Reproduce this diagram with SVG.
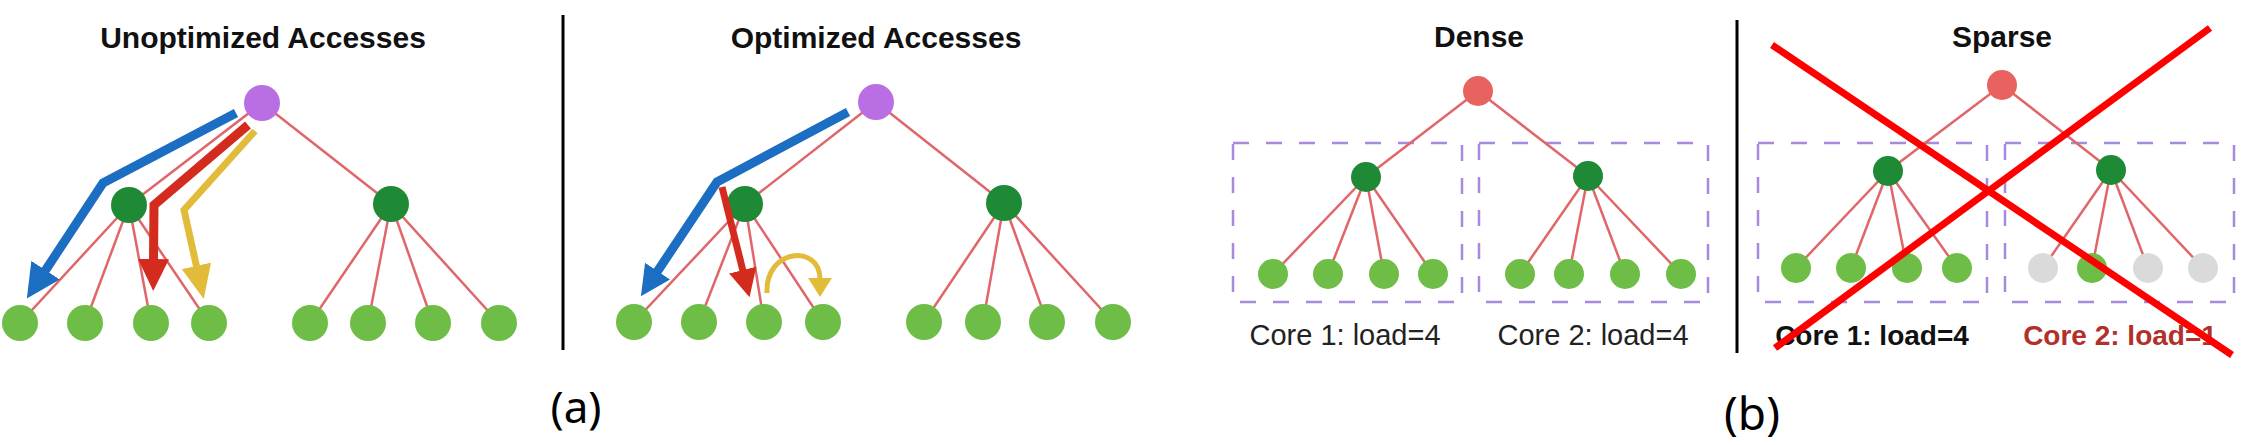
<svg xmlns="http://www.w3.org/2000/svg" width="2267" height="445" viewBox="0 0 2267 445">
<style>
  .title{font-family:"Liberation Sans",Arial,sans-serif;font-weight:bold;font-size:30px;fill:#111;text-anchor:middle}
  .lbl{font-family:"Liberation Sans",Arial,sans-serif;font-size:29px;fill:#222;text-anchor:middle}
  .lblb{font-family:"Liberation Sans",Arial,sans-serif;font-weight:bold;font-size:28px;fill:#111;text-anchor:middle}
  .cap{font-family:"Noto Sans","Open Sans",sans-serif;font-size:44px;fill:#000;text-anchor:middle}
  .edge{stroke:#e0666a;stroke-width:2.5;fill:none}
  .sep{stroke:#000;stroke-width:3}
  .core{fill:none;stroke:#a68ade;stroke-width:2.5;stroke-dasharray:16 17}
  .purple{fill:#b96ee3}
  .mid{fill:#1e8a35}
  .leaf{fill:#6dbd47}
  .rootr{fill:#e8625f}
  .grey{fill:#dadada}
  .arrow{fill:none;stroke-linejoin:miter;stroke-linecap:butt}
  .blue{stroke:#1b6ec2}
  .red{stroke:#d32b1d}
  .yel{stroke:#e2bb3b}
  .cross{stroke:#ff0000;stroke-width:7}
</style>
<defs>
  <marker id="hBlueA" markerUnits="userSpaceOnUse" markerWidth="34" markerHeight="34" viewBox="0 0 34 34" refX="1" refY="17" orient="auto"><path d="M0,0 L34,17 L0,34 z" fill="#1b6ec2"/></marker>
  <marker id="hRedA" markerUnits="userSpaceOnUse" markerWidth="32" markerHeight="31" viewBox="0 0 32 31" refX="1" refY="15.5" orient="auto"><path d="M0,0 L32,15.5 L0,31 z" fill="#d32b1d"/></marker>
  <marker id="hYelA" markerUnits="userSpaceOnUse" markerWidth="34" markerHeight="30" viewBox="0 0 34 30" refX="1" refY="15" orient="auto"><path d="M0,0 L34,15 L0,30 z" fill="#e2bb3b"/></marker>
  <marker id="hBlueB" markerUnits="userSpaceOnUse" markerWidth="30" markerHeight="30" viewBox="0 0 30 30" refX="1" refY="15" orient="auto"><path d="M0,0 L30,15 L0,30 z" fill="#1b6ec2"/></marker>
  <marker id="hRedB" markerUnits="userSpaceOnUse" markerWidth="28" markerHeight="28" viewBox="0 0 28 28" refX="1" refY="14" orient="auto"><path d="M0,0 L28,14 L0,28 z" fill="#d32b1d"/></marker>
  <marker id="hYelB" markerUnits="userSpaceOnUse" markerWidth="19" markerHeight="24" viewBox="0 0 19 24" refX="1" refY="12" orient="auto"><path d="M0,0 L19,12 L0,24 z" fill="#e2bb3b"/></marker>
</defs>
<rect width="2267" height="445" fill="#fff"/>

<g id="texts">
  <text class="title" x="263" y="48">Unoptimized Accesses</text>
  <text class="title" x="876" y="48">Optimized Accesses</text>
  <text class="title" x="1479" y="47">Dense</text>
  <text class="title" x="2002" y="47">Sparse</text>
  <text class="cap" x="576" y="423">(a)</text>
  <text class="cap" x="1752" y="430" style="font-size:46px">(b)</text>
</g>

<g id="separators">
  <line class="sep" x1="563" y1="15" x2="563" y2="350"/>
  <line class="sep" x1="1737" y1="20" x2="1737" y2="353"/>
</g>

<g id="core-boxes">
  <g id="dense-core1"><rect class="core" x="1233" y="143" width="229" height="159"/><text class="lbl" x="1345" y="345">Core 1: load=4</text></g>
  <g id="dense-core2"><rect class="core" x="1479" y="143" width="229" height="159"/><text class="lbl" x="1593" y="345">Core 2: load=4</text></g>
  <g id="sparse-core1"><rect class="core" x="1758" y="143" width="229" height="159"/><text class="lblb" x="1872" y="345">Core 1: load=4</text></g>
  <g id="sparse-core2"><rect class="core" x="2005" y="143" width="229" height="159"/><text class="lblb" x="2120" y="345" style="fill:#b3302a">Core 2: load=1</text></g>
</g>

<g id="connectors">
  <!-- unoptimized tree -->
  <line class="edge" x1="262" y1="103" x2="129" y2="205"/>
  <line class="edge" x1="262" y1="103" x2="391" y2="204"/>
  <line class="edge" x1="129" y1="205" x2="20" y2="323"/>
  <line class="edge" x1="129" y1="205" x2="85" y2="323"/>
  <line class="edge" x1="129" y1="205" x2="151" y2="323"/>
  <line class="edge" x1="129" y1="205" x2="209" y2="323"/>
  <line class="edge" x1="391" y1="204" x2="310" y2="323"/>
  <line class="edge" x1="391" y1="204" x2="368" y2="323"/>
  <line class="edge" x1="391" y1="204" x2="433" y2="323"/>
  <line class="edge" x1="391" y1="204" x2="499" y2="323"/>
  <!-- optimized tree -->
  <line class="edge" x1="876" y1="102" x2="745" y2="204"/>
  <line class="edge" x1="876" y1="102" x2="1004" y2="203"/>
  <line class="edge" x1="745" y1="204" x2="634" y2="322"/>
  <line class="edge" x1="745" y1="204" x2="699" y2="322"/>
  <line class="edge" x1="745" y1="204" x2="764" y2="322"/>
  <line class="edge" x1="745" y1="204" x2="823" y2="322"/>
  <line class="edge" x1="1004" y1="203" x2="924" y2="322"/>
  <line class="edge" x1="1004" y1="203" x2="983" y2="322"/>
  <line class="edge" x1="1004" y1="203" x2="1047" y2="322"/>
  <line class="edge" x1="1004" y1="203" x2="1113" y2="322"/>
  <!-- dense tree -->
  <line class="edge" x1="1478" y1="91" x2="1366" y2="177"/>
  <line class="edge" x1="1478" y1="91" x2="1588" y2="176"/>
  <line class="edge" x1="1366" y1="177" x2="1273" y2="274"/>
  <line class="edge" x1="1366" y1="177" x2="1328" y2="274"/>
  <line class="edge" x1="1366" y1="177" x2="1384" y2="274"/>
  <line class="edge" x1="1366" y1="177" x2="1433" y2="274"/>
  <line class="edge" x1="1588" y1="176" x2="1520" y2="274"/>
  <line class="edge" x1="1588" y1="176" x2="1569" y2="274"/>
  <line class="edge" x1="1588" y1="176" x2="1625" y2="274"/>
  <line class="edge" x1="1588" y1="176" x2="1681" y2="274"/>
  <!-- sparse tree -->
  <line class="edge" x1="2002" y1="85" x2="1888" y2="171"/>
  <line class="edge" x1="2002" y1="85" x2="2111" y2="170"/>
  <line class="edge" x1="1888" y1="171" x2="1796" y2="268"/>
  <line class="edge" x1="1888" y1="171" x2="1851" y2="268"/>
  <line class="edge" x1="1888" y1="171" x2="1907" y2="268"/>
  <line class="edge" x1="1888" y1="171" x2="1957" y2="268"/>
  <line class="edge" x1="2111" y1="170" x2="2043" y2="268"/>
  <line class="edge" x1="2111" y1="170" x2="2092" y2="268"/>
  <line class="edge" x1="2111" y1="170" x2="2148" y2="268"/>
  <line class="edge" x1="2111" y1="170" x2="2203" y2="268"/>
</g>

<g id="nodes">
  <g id="u-root"><circle class="purple" cx="262" cy="103" r="18"/></g>
  <g id="u-mid1"><circle class="mid" cx="129" cy="205" r="18"/></g>
  <g id="u-mid2"><circle class="mid" cx="391" cy="204" r="18"/></g>
  <g id="u-leaf1"><circle class="leaf" cx="20" cy="323" r="18"/></g>
  <g id="u-leaf2"><circle class="leaf" cx="85" cy="323" r="18"/></g>
  <g id="u-leaf3"><circle class="leaf" cx="151" cy="323" r="18"/></g>
  <g id="u-leaf4"><circle class="leaf" cx="209" cy="323" r="18"/></g>
  <g id="u-leaf5"><circle class="leaf" cx="310" cy="323" r="18"/></g>
  <g id="u-leaf6"><circle class="leaf" cx="368" cy="323" r="18"/></g>
  <g id="u-leaf7"><circle class="leaf" cx="433" cy="323" r="18"/></g>
  <g id="u-leaf8"><circle class="leaf" cx="499" cy="323" r="18"/></g>

  <g id="o-root"><circle class="purple" cx="876" cy="102" r="18"/></g>
  <g id="o-mid1"><circle class="mid" cx="745" cy="204" r="18"/></g>
  <g id="o-mid2"><circle class="mid" cx="1004" cy="203" r="18"/></g>
  <g id="o-leaf1"><circle class="leaf" cx="634" cy="322" r="18"/></g>
  <g id="o-leaf2"><circle class="leaf" cx="699" cy="322" r="18"/></g>
  <g id="o-leaf3"><circle class="leaf" cx="764" cy="322" r="18"/></g>
  <g id="o-leaf4"><circle class="leaf" cx="823" cy="322" r="18"/></g>
  <g id="o-leaf5"><circle class="leaf" cx="924" cy="322" r="18"/></g>
  <g id="o-leaf6"><circle class="leaf" cx="983" cy="322" r="18"/></g>
  <g id="o-leaf7"><circle class="leaf" cx="1047" cy="322" r="18"/></g>
  <g id="o-leaf8"><circle class="leaf" cx="1113" cy="322" r="18"/></g>

  <g id="d-root"><circle class="rootr" cx="1478" cy="91" r="15"/></g>
  <g id="d-mid1"><circle class="mid" cx="1366" cy="177" r="15"/></g>
  <g id="d-mid2"><circle class="mid" cx="1588" cy="176" r="15"/></g>
  <g id="d-leaf1"><circle class="leaf" cx="1273" cy="274" r="15"/></g>
  <g id="d-leaf2"><circle class="leaf" cx="1328" cy="274" r="15"/></g>
  <g id="d-leaf3"><circle class="leaf" cx="1384" cy="274" r="15"/></g>
  <g id="d-leaf4"><circle class="leaf" cx="1433" cy="274" r="15"/></g>
  <g id="d-leaf5"><circle class="leaf" cx="1520" cy="274" r="15"/></g>
  <g id="d-leaf6"><circle class="leaf" cx="1569" cy="274" r="15"/></g>
  <g id="d-leaf7"><circle class="leaf" cx="1625" cy="274" r="15"/></g>
  <g id="d-leaf8"><circle class="leaf" cx="1681" cy="274" r="15"/></g>

  <g id="s-root"><circle class="rootr" cx="2002" cy="85" r="15"/></g>
  <g id="s-mid1"><circle class="mid" cx="1888" cy="171" r="15"/></g>
  <g id="s-mid2"><circle class="mid" cx="2111" cy="170" r="15"/></g>
  <g id="s-leaf1"><circle class="leaf" cx="1796" cy="268" r="15"/></g>
  <g id="s-leaf2"><circle class="leaf" cx="1851" cy="268" r="15"/></g>
  <g id="s-leaf3"><circle class="leaf" cx="1907" cy="268" r="15"/></g>
  <g id="s-leaf4"><circle class="leaf" cx="1957" cy="268" r="15"/></g>
  <g id="s-leaf5"><circle class="grey" cx="2043" cy="268" r="15"/></g>
  <g id="s-leaf6"><circle class="leaf" cx="2092" cy="268" r="15"/></g>
  <g id="s-leaf7"><circle class="grey" cx="2148" cy="268" r="15"/></g>
  <g id="s-leaf8"><circle class="grey" cx="2203" cy="268" r="15"/></g>
</g>

<g id="access-arrows">
  <path class="arrow blue" stroke-width="9" d="M236,113 L103,183 L45,271" marker-end="url(#hBlueA)"/>
  <path class="arrow red" stroke-width="9" d="M248,125 L154,205 L153.5,260" marker-end="url(#hRedA)"/>
  <path class="arrow yel" stroke-width="7" d="M255,131 L184,210 L196.6,266.8" marker-end="url(#hYelA)"/>
  <path class="arrow blue" stroke-width="9" d="M848,112 L717,182 L657,272" marker-end="url(#hBlueB)"/>
  <path class="arrow red" stroke-width="7" d="M722,187 L743,271" marker-end="url(#hRedB)"/>
  <path class="arrow yel" stroke-width="5" d="M767,293 C765,248 820,244 820,279" marker-end="url(#hYelB)"/>
</g>

<g id="cross-out">
  <line class="cross" x1="1772" y1="45" x2="2232" y2="355"/>
  <line class="cross" x1="1775" y1="348" x2="2210" y2="28"/>
</g>
</svg>
